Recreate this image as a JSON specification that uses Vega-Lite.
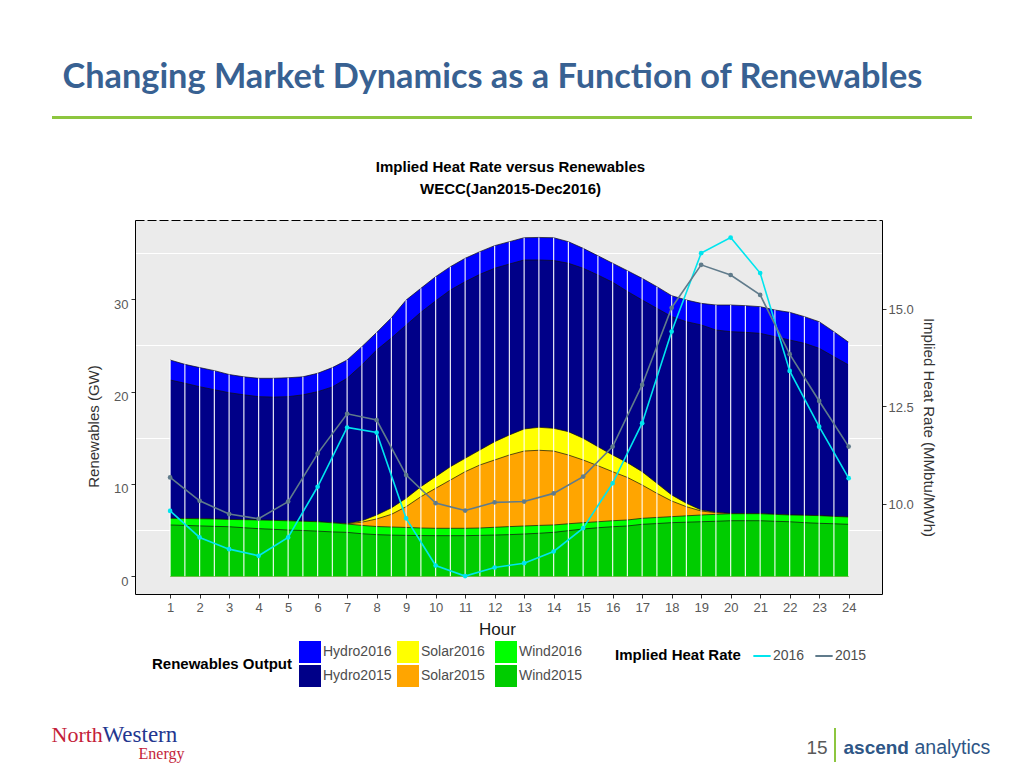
{
  "$schema": "https://vega.github.io/schema/vega-lite/v6.json",
  "width": 747,
  "height": 374,
  "autosize": {"type": "none"},
  "padding": {"left": 135, "top": 220, "right": 142, "bottom": 174},
  "background": "#FFFFFF",
  "config": {
    "view": {"fill": "#EBEBEB", "stroke": null},
    "font": "Liberation Sans",
    "axis": {"labelFont": "Liberation Sans", "titleFont": "Liberation Sans", "labelOverlap": false, "labelFlush": false},
    "legend": {"labelFont": "Liberation Sans", "titleFont": "Liberation Sans"}
  },
  "datasets": {
    "gen": [
      {"h": 1, "H16": 23.42, "H15": 21.26, "S16": 6.27, "S15": 5.55, "W16": 6.27, "W15": 5.55},
      {"h": 1.5, "H16": 22.95, "H15": 20.9, "S16": 6.25, "S15": 5.5, "W16": 6.25, "W15": 5.5},
      {"h": 2, "H16": 22.6, "H15": 20.53, "S16": 6.22, "S15": 5.45, "W16": 6.22, "W15": 5.45},
      {"h": 2.5, "H16": 22.27, "H15": 20.2, "S16": 6.2, "S15": 5.4, "W16": 6.2, "W15": 5.4},
      {"h": 3, "H16": 21.85, "H15": 19.88, "S16": 6.15, "S15": 5.36, "W16": 6.15, "W15": 5.36},
      {"h": 3.5, "H16": 21.6, "H15": 19.65, "S16": 6.12, "S15": 5.25, "W16": 6.12, "W15": 5.25},
      {"h": 4, "H16": 21.44, "H15": 19.45, "S16": 6.09, "S15": 5.15, "W16": 6.09, "W15": 5.15},
      {"h": 4.5, "H16": 21.44, "H15": 19.4, "S16": 6.05, "S15": 5.08, "W16": 6.05, "W15": 5.08},
      {"h": 5, "H16": 21.5, "H15": 19.45, "S16": 6.0, "S15": 5.0, "W16": 6.0, "W15": 5.0},
      {"h": 5.5, "H16": 21.6, "H15": 19.65, "S16": 5.95, "S15": 4.95, "W16": 5.95, "W15": 4.95},
      {"h": 6, "H16": 21.98, "H15": 19.99, "S16": 5.9, "S15": 4.88, "W16": 5.9, "W15": 4.88},
      {"h": 6.5, "H16": 22.6, "H15": 20.5, "S16": 5.78, "S15": 4.8, "W16": 5.78, "W15": 4.8},
      {"h": 7, "H16": 23.42, "H15": 21.44, "S16": 5.7, "S15": 5.68, "W16": 5.65, "W15": 4.75},
      {"h": 7.5, "H16": 24.87, "H15": 22.88, "S16": 6.0, "S15": 5.85, "W16": 5.5, "W15": 4.6},
      {"h": 8, "H16": 26.4, "H15": 24.5, "S16": 6.63, "S15": 6.2, "W16": 5.38, "W15": 4.5},
      {"h": 8.5, "H16": 28.0, "H15": 25.8, "S16": 7.4, "S15": 6.7, "W16": 5.33, "W15": 4.45},
      {"h": 9, "H16": 29.92, "H15": 27.2, "S16": 8.44, "S15": 7.53, "W16": 5.28, "W15": 4.42},
      {"h": 9.5, "H16": 31.19, "H15": 28.59, "S16": 9.7, "S15": 8.61, "W16": 5.22, "W15": 4.4},
      {"h": 10, "H16": 32.45, "H15": 29.82, "S16": 10.78, "S15": 9.52, "W16": 5.19, "W15": 4.39},
      {"h": 10.5, "H16": 33.53, "H15": 31.0, "S16": 11.86, "S15": 10.42, "W16": 5.19, "W15": 4.39},
      {"h": 11, "H16": 34.44, "H15": 31.9, "S16": 12.77, "S15": 11.32, "W16": 5.19, "W15": 4.39},
      {"h": 11.5, "H16": 35.16, "H15": 32.7, "S16": 13.67, "S15": 12.05, "W16": 5.22, "W15": 4.42},
      {"h": 12, "H16": 35.81, "H15": 33.36, "S16": 14.57, "S15": 12.59, "W16": 5.3, "W15": 4.46},
      {"h": 12.5, "H16": 36.24, "H15": 33.82, "S16": 15.3, "S15": 13.13, "W16": 5.37, "W15": 4.5},
      {"h": 13, "H16": 36.67, "H15": 34.26, "S16": 15.95, "S15": 13.56, "W16": 5.44, "W15": 4.57},
      {"h": 13.5, "H16": 36.7, "H15": 34.26, "S16": 16.13, "S15": 13.64, "W16": 5.5, "W15": 4.65},
      {"h": 14, "H16": 36.67, "H15": 34.2, "S16": 16.02, "S15": 13.56, "W16": 5.55, "W15": 4.75},
      {"h": 14.5, "H16": 36.24, "H15": 33.9, "S16": 15.66, "S15": 13.13, "W16": 5.68, "W15": 4.93},
      {"h": 15, "H16": 35.52, "H15": 33.36, "S16": 14.94, "S15": 12.59, "W16": 5.8, "W15": 5.11},
      {"h": 15.5, "H16": 34.72, "H15": 32.63, "S16": 14.03, "S15": 11.97, "W16": 5.9, "W15": 5.25},
      {"h": 16, "H16": 33.9, "H15": 31.84, "S16": 13.13, "S15": 11.32, "W16": 6.01, "W15": 5.36},
      {"h": 16.5, "H16": 33.1, "H15": 30.85, "S16": 12.3, "S15": 10.7, "W16": 6.09, "W15": 5.44},
      {"h": 17, "H16": 32.27, "H15": 29.92, "S16": 11.32, "S15": 9.88, "W16": 6.27, "W15": 5.62},
      {"h": 17.5, "H16": 31.37, "H15": 29.02, "S16": 10.06, "S15": 8.98, "W16": 6.36, "W15": 5.7},
      {"h": 18, "H16": 30.39, "H15": 28.12, "S16": 8.8, "S15": 8.15, "W16": 6.45, "W15": 5.8},
      {"h": 18.5, "H16": 29.92, "H15": 27.57, "S16": 7.9, "S15": 7.53, "W16": 6.54, "W15": 5.85},
      {"h": 19, "H16": 29.56, "H15": 27.22, "S16": 7.17, "S15": 7.06, "W16": 6.63, "W15": 5.9},
      {"h": 19.5, "H16": 29.38, "H15": 26.67, "S16": 6.92, "S15": 6.88, "W16": 6.7, "W15": 5.95},
      {"h": 20, "H16": 29.38, "H15": 26.49, "S16": 6.8, "S15": 6.78, "W16": 6.77, "W15": 6.01},
      {"h": 20.5, "H16": 29.31, "H15": 26.42, "S16": 6.77, "S15": 6.01, "W16": 6.77, "W15": 6.01},
      {"h": 21, "H16": 29.2, "H15": 26.31, "S16": 6.77, "S15": 6.01, "W16": 6.77, "W15": 6.01},
      {"h": 21.5, "H16": 28.84, "H15": 25.95, "S16": 6.7, "S15": 5.95, "W16": 6.7, "W15": 5.95},
      {"h": 22, "H16": 28.59, "H15": 25.59, "S16": 6.63, "S15": 5.9, "W16": 6.63, "W15": 5.9},
      {"h": 22.5, "H16": 28.12, "H15": 25.23, "S16": 6.6, "S15": 5.8, "W16": 6.6, "W15": 5.8},
      {"h": 23, "H16": 27.57, "H15": 24.69, "S16": 6.56, "S15": 5.73, "W16": 6.56, "W15": 5.73},
      {"h": 23.5, "H16": 26.49, "H15": 23.78, "S16": 6.48, "S15": 5.68, "W16": 6.48, "W15": 5.68},
      {"h": 24, "H16": 25.34, "H15": 22.88, "S16": 6.41, "S15": 5.62, "W16": 6.41, "W15": 5.62}
    ],
    "hr": [
      {"h": 1, "year": "2016", "hr": 9.82}, {"h": 2, "year": "2016", "hr": 9.14}, {"h": 3, "year": "2016", "hr": 8.84},
      {"h": 4, "year": "2016", "hr": 8.67}, {"h": 5, "year": "2016", "hr": 9.14}, {"h": 6, "year": "2016", "hr": 10.44},
      {"h": 7, "year": "2016", "hr": 11.96}, {"h": 8, "year": "2016", "hr": 11.83}, {"h": 9, "year": "2016", "hr": 9.63},
      {"h": 10, "year": "2016", "hr": 8.42}, {"h": 11, "year": "2016", "hr": 8.15}, {"h": 12, "year": "2016", "hr": 8.37},
      {"h": 13, "year": "2016", "hr": 8.48}, {"h": 14, "year": "2016", "hr": 8.78}, {"h": 15, "year": "2016", "hr": 9.38},
      {"h": 16, "year": "2016", "hr": 10.53}, {"h": 17, "year": "2016", "hr": 12.07}, {"h": 18, "year": "2016", "hr": 14.42},
      {"h": 19, "year": "2016", "hr": 16.43}, {"h": 20, "year": "2016", "hr": 16.83}, {"h": 21, "year": "2016", "hr": 15.92},
      {"h": 22, "year": "2016", "hr": 13.41}, {"h": 23, "year": "2016", "hr": 11.98}, {"h": 24, "year": "2016", "hr": 10.66},
      {"h": 1, "year": "2015", "hr": 10.68}, {"h": 2, "year": "2015", "hr": 10.08}, {"h": 3, "year": "2015", "hr": 9.74},
      {"h": 4, "year": "2015", "hr": 9.62}, {"h": 5, "year": "2015", "hr": 10.06}, {"h": 6, "year": "2015", "hr": 11.29},
      {"h": 7, "year": "2015", "hr": 12.31}, {"h": 8, "year": "2015", "hr": 12.15}, {"h": 9, "year": "2015", "hr": 10.74},
      {"h": 10, "year": "2015", "hr": 10.02}, {"h": 11, "year": "2015", "hr": 9.83}, {"h": 12, "year": "2015", "hr": 10.04},
      {"h": 13, "year": "2015", "hr": 10.06}, {"h": 14, "year": "2015", "hr": 10.27}, {"h": 15, "year": "2015", "hr": 10.7},
      {"h": 16, "year": "2015", "hr": 11.47}, {"h": 17, "year": "2015", "hr": 13.05}, {"h": 18, "year": "2015", "hr": 15.03},
      {"h": 19, "year": "2015", "hr": 16.13}, {"h": 20, "year": "2015", "hr": 15.87}, {"h": 21, "year": "2015", "hr": 15.36},
      {"h": 22, "year": "2015", "hr": 13.84}, {"h": 23, "year": "2015", "hr": 12.64}, {"h": 24, "year": "2015", "hr": 11.47}
    ],
    "one": [{"d": 0}]
  },
  "layer": [
    {
      "data": {"name": "gen"},
      "layer": [
        {
          "mark": {"type": "area", "opacity": 1},
          "encoding": {
            "x": {"field": "h", "type": "quantitative", "scale": {"domain": [-0.19, 25.13], "nice": false, "zero": false}, "axis": null},
            "y": {"field": "H16", "type": "quantitative", "scale": {"domain": [-1.93, 38.59], "nice": false, "zero": false}, "axis": null},
            "fill": {"datum": "Hydro2016", "type": "nominal",
              "scale": {"domain": ["Hydro2016", "Solar2016", "Wind2016", "Hydro2015", "Solar2015", "Wind2015"], "range": ["#0000FF", "#FFFF00", "#00FF00", "#000088", "#FFA500", "#00CC00"]},
              "legend": {"title": "Renewables Output", "orient": "none", "legendX": 17, "legendY": 421, "direction": "horizontal", "columns": 3, "gridAlign": "all", "titleOrient": "left", "titleAnchor": "middle", "titleBaseline": "middle", "titleFontSize": 15, "titleFontWeight": "bold", "titleColor": "#000000", "titlePadding": 6, "symbolType": "square", "symbolSize": 484, "symbolStrokeWidth": 0, "symbolOpacity": 1, "labelFontSize": 14, "labelColor": "#4D4D4D", "labelOffset": 2, "columnPadding": 5, "rowPadding": 2, "padding": 0}}
          }
        },
        {"mark": {"type": "line", "color": "#111111", "strokeWidth": 0.7}, "encoding": {"x": {"field": "h", "type": "quantitative", "scale": {"domain": [-0.19, 25.13], "nice": false, "zero": false}, "axis": null}, "y": {"field": "H16", "type": "quantitative", "scale": {"domain": [-1.93, 38.59], "nice": false, "zero": false}, "axis": null}}},
        {"mark": {"type": "area", "opacity": 1}, "encoding": {"x": {"field": "h", "type": "quantitative", "scale": {"domain": [-0.19, 25.13], "nice": false, "zero": false}, "axis": null}, "y": {"field": "H15", "type": "quantitative", "scale": {"domain": [-1.93, 38.59], "nice": false, "zero": false}, "axis": null}, "fill": {"datum": "Hydro2015", "type": "nominal"}}},
        {"mark": {"type": "line", "color": "#111111", "strokeWidth": 0.7}, "encoding": {"x": {"field": "h", "type": "quantitative", "scale": {"domain": [-0.19, 25.13], "nice": false, "zero": false}, "axis": null}, "y": {"field": "H15", "type": "quantitative", "scale": {"domain": [-1.93, 38.59], "nice": false, "zero": false}, "axis": null}}},
        {"mark": {"type": "area", "opacity": 1}, "encoding": {"x": {"field": "h", "type": "quantitative", "scale": {"domain": [-0.19, 25.13], "nice": false, "zero": false}, "axis": null}, "y": {"field": "S16", "type": "quantitative", "scale": {"domain": [-1.93, 38.59], "nice": false, "zero": false}, "axis": null}, "fill": {"datum": "Solar2016", "type": "nominal"}}},
        {"mark": {"type": "line", "color": "#111111", "strokeWidth": 0.7}, "encoding": {"x": {"field": "h", "type": "quantitative", "scale": {"domain": [-0.19, 25.13], "nice": false, "zero": false}, "axis": null}, "y": {"field": "S16", "type": "quantitative", "scale": {"domain": [-1.93, 38.59], "nice": false, "zero": false}, "axis": null}}},
        {"mark": {"type": "area", "opacity": 1}, "encoding": {"x": {"field": "h", "type": "quantitative", "scale": {"domain": [-0.19, 25.13], "nice": false, "zero": false}, "axis": null}, "y": {"field": "S15", "type": "quantitative", "scale": {"domain": [-1.93, 38.59], "nice": false, "zero": false}, "axis": null}, "fill": {"datum": "Solar2015", "type": "nominal"}}},
        {"mark": {"type": "line", "color": "#111111", "strokeWidth": 0.7}, "encoding": {"x": {"field": "h", "type": "quantitative", "scale": {"domain": [-0.19, 25.13], "nice": false, "zero": false}, "axis": null}, "y": {"field": "S15", "type": "quantitative", "scale": {"domain": [-1.93, 38.59], "nice": false, "zero": false}, "axis": null}}},
        {"mark": {"type": "area", "opacity": 1}, "encoding": {"x": {"field": "h", "type": "quantitative", "scale": {"domain": [-0.19, 25.13], "nice": false, "zero": false}, "axis": null}, "y": {"field": "W16", "type": "quantitative", "scale": {"domain": [-1.93, 38.59], "nice": false, "zero": false}, "axis": null}, "fill": {"datum": "Wind2016", "type": "nominal"}}},
        {"mark": {"type": "line", "color": "#111111", "strokeWidth": 0.7}, "encoding": {"x": {"field": "h", "type": "quantitative", "scale": {"domain": [-0.19, 25.13], "nice": false, "zero": false}, "axis": null}, "y": {"field": "W16", "type": "quantitative", "scale": {"domain": [-1.93, 38.59], "nice": false, "zero": false}, "axis": null}}},
        {"mark": {"type": "area", "opacity": 1}, "encoding": {"x": {"field": "h", "type": "quantitative", "scale": {"domain": [-0.19, 25.13], "nice": false, "zero": false}, "axis": null}, "y": {"field": "W15", "type": "quantitative", "scale": {"domain": [-1.93, 38.59], "nice": false, "zero": false}, "axis": null}, "fill": {"datum": "Wind2015", "type": "nominal"}}},
        {"mark": {"type": "line", "color": "#111111", "strokeWidth": 0.7}, "encoding": {"x": {"field": "h", "type": "quantitative", "scale": {"domain": [-0.19, 25.13], "nice": false, "zero": false}, "axis": null}, "y": {"field": "W15", "type": "quantitative", "scale": {"domain": [-1.93, 38.59], "nice": false, "zero": false}, "axis": null}}},
        {"mark": {"type": "rule", "color": "#FFFFFF", "strokeWidth": 1.2, "opacity": 0.9}, "encoding": {"x": {"field": "h", "type": "quantitative", "scale": {"domain": [-0.19, 25.13], "nice": false, "zero": false}, "axis": null}, "y": {"field": "H16", "type": "quantitative", "scale": {"domain": [-1.93, 38.59], "nice": false, "zero": false}, "axis": null}, "y2": {"datum": 0}}}
      ]
    },
    {
      "data": {"name": "hr"},
      "mark": {"type": "line", "strokeWidth": 1.6, "point": {"filled": true, "size": 22}},
      "encoding": {
        "x": {"field": "h", "type": "quantitative", "scale": {"domain": [-0.19, 25.13], "nice": false, "zero": false},
          "axis": {"orient": "top", "domain": true, "domainColor": "#000000", "domainDash": [9, 3], "domainWidth": 1, "ticks": false, "labels": false, "grid": false, "title": ["Implied Heat Rate versus Renewables", "WECC(Jan2015-Dec2016)"], "titleX": 375, "titleY": -49, "titleAlign": "center", "titleBaseline": "alphabetic", "titleAngle": 0, "titleFontSize": 15, "titleFontWeight": "bold", "titleColor": "#000000", "titleLineHeight": 22}},
        "y": {"field": "hr", "type": "quantitative", "scale": {"domain": [7.69, 17.28], "nice": false, "zero": false},
          "axis": {"orient": "right", "values": [10, 12.5, 15], "format": ".1f", "grid": false, "domainColor": "#000000", "domainWidth": 1, "tickColor": "#333333", "tickSize": 4, "labelFontSize": 13, "labelColor": "#595959", "labelPadding": 2, "labelOffset": 1, "title": "Implied Heat Rate (MMbtu/MWh)", "titleX": 46, "titleY": 207, "titleAngle": 90, "titleAlign": "center", "titleBaseline": "middle", "titleFontSize": 15, "titleFontWeight": "normal", "titleColor": "#333333"}},
        "color": {"field": "year", "type": "nominal", "scale": {"domain": ["2016", "2015"], "range": ["#00E5EE", "#607B8B"]},
          "legend": {"title": "Implied Heat Rate", "orient": "none", "legendX": 480, "legendY": 426, "direction": "horizontal", "titleOrient": "left", "titleAnchor": "middle", "titleBaseline": "middle", "titleFontSize": 15, "titleFontWeight": "bold", "titleColor": "#000000", "titlePadding": 11, "symbolType": "stroke", "symbolSize": 300, "symbolStrokeWidth": 2, "labelFontSize": 14, "labelColor": "#4D4D4D", "labelOffset": 1, "columnPadding": 6, "padding": 0}}
      }
    },
    {
      "data": {"name": "one"},
      "mark": {"type": "point", "opacity": 0},
      "encoding": {
        "x": {"field": "d", "type": "quantitative", "scale": {"domain": [-0.19, 25.13], "nice": false, "zero": false},
          "axis": {"orient": "bottom", "values": [1,2,3,4,5,6,7,8,9,10,11,12,13,14,15,16,17,18,19,20,21,22,23,24], "grid": false, "domainColor": "#000000", "domainWidth": 1, "tickColor": "#333333", "tickSize": 4, "labelFontSize": 13, "labelColor": "#595959", "labelPadding": 3, "title": "Hour", "titleX": 362, "titleY": 40, "titleAlign": "center", "titleBaseline": "alphabetic", "titleAngle": 0, "titleFontSize": 17, "titleFontWeight": "normal", "titleColor": "#1A1A1A"}},
        "y": {"field": "d", "type": "quantitative", "scale": {"domain": [-1.93, 38.59], "nice": false, "zero": false},
          "axis": {"orient": "left", "values": [0, 10, 20, 30], "grid": false, "domainColor": "#000000", "domainWidth": 1, "tickColor": "#333333", "tickSize": 4, "labelFontSize": 13, "labelColor": "#595959", "labelPadding": 3, "labelOffset": 5, "title": "Renewables (GW)", "titleX": -42, "titleY": 206, "titleAngle": 270, "titleAlign": "center", "titleBaseline": "middle", "titleFontSize": 15, "titleFontWeight": "normal", "titleColor": "#333333"}}
      }
    },
    {
      "data": {"name": "one"},
      "mark": {"type": "point", "opacity": 0},
      "encoding": {
        "x": {"field": "d", "type": "quantitative", "scale": {"domain": [0, 1]},
          "axis": {"orient": "top", "domain": false, "ticks": false, "labels": false, "grid": false, "title": "Changing Market Dynamics as a Function of Renewables", "titleX": -73, "titleY": -133, "titleAlign": "left", "titleBaseline": "alphabetic", "titleAngle": 0, "titleFont": "Lato", "titleFontSize": 34.3, "titleFontWeight": "bold", "titleColor": "#386192"}},
        "y": {"field": "d", "type": "quantitative", "scale": {"domain": [-1.93, 38.59], "nice": false, "zero": false},
          "axis": {"orient": "left", "values": [5, 15, 25, 35], "grid": true, "gridColor": "#FFFFFF", "gridWidth": 1.2, "gridOpacity": 1, "domain": false, "ticks": false, "labels": false, "title": "15", "titleX": 671, "titleY": 533, "titleAngle": 0, "titleAlign": "left", "titleBaseline": "alphabetic", "titleFontSize": 19, "titleFontWeight": "normal", "titleColor": "#595959"}},
        "color": {"field": "d", "type": "quantitative", "scale": {"domain": [0, 1], "range": ["#8DC63F", "#8DC63F"]},
          "legend": {"orient": "none", "legendX": -83, "legendY": -104, "direction": "horizontal", "gradientLength": 920, "gradientThickness": 3, "gradientStrokeWidth": 0, "title": null, "labelExpr": "''", "padding": 0}}
      }
    },
    {
      "data": {"name": "one"},
      "mark": {"type": "point", "opacity": 0},
      "encoding": {
        "x": {"field": "d", "type": "quantitative", "scale": {"domain": [0, 1]},
          "axis": {"orient": "bottom", "domain": false, "ticks": false, "labels": false, "grid": false, "title": "ascend", "titleX": 708, "titleY": 159, "titleAlign": "left", "titleBaseline": "alphabetic", "titleAngle": 0, "titleFontSize": 19, "titleFontWeight": "bold", "titleColor": "#2E5686"}},
        "y": {"field": "d", "type": "quantitative", "scale": {"domain": [0, 1]},
          "axis": {"orient": "right", "domain": false, "ticks": false, "labels": false, "grid": false, "title": "analytics", "titleX": 32, "titleY": 533, "titleAlign": "left", "titleBaseline": "alphabetic", "titleAngle": 0, "titleFontSize": 19.5, "titleFontWeight": "normal", "titleColor": "#2E5686"}}
      }
    },
    {
      "data": {"name": "one"},
      "mark": {"type": "point", "opacity": 0},
      "encoding": {
        "x": {"field": "d", "type": "quantitative", "scale": {"domain": [0, 1]},
          "axis": {"orient": "top", "domain": false, "ticks": false, "labels": false, "grid": false, "title": "North", "titleX": -84, "titleY": 521, "titleAlign": "left", "titleBaseline": "alphabetic", "titleAngle": 0, "titleFont": "Liberation Serif", "titleFontSize": 22, "titleFontWeight": "normal", "titleColor": "#C41E3A"}},
        "y": {"field": "d", "type": "quantitative", "scale": {"domain": [0, 1]},
          "axis": {"orient": "left", "domain": false, "ticks": false, "labels": false, "grid": false, "title": "Western", "titleX": -33, "titleY": 521, "titleAlign": "left", "titleBaseline": "alphabetic", "titleAngle": 0, "titleFont": "Liberation Serif", "titleFontSize": 23, "titleFontWeight": "normal", "titleColor": "#23368F"}}
      }
    },
    {
      "data": {"name": "one"},
      "mark": {"type": "point", "opacity": 0},
      "encoding": {
        "x": {"field": "d", "type": "quantitative", "scale": {"domain": [0, 1]},
          "axis": {"orient": "bottom", "domain": false, "ticks": false, "labels": false, "grid": false, "title": "Energy", "titleX": 3, "titleY": 164, "titleAlign": "left", "titleBaseline": "alphabetic", "titleAngle": 0, "titleFont": "Liberation Serif", "titleFontSize": 16, "titleFontWeight": "normal", "titleColor": "#C41E3A"}},
        "y": {"field": "d", "type": "quantitative", "scale": {"domain": [0, 1]}, "axis": null},
        "color": {"field": "d", "type": "quantitative", "scale": {"domain": [0, 1], "range": ["#8DC63F", "#8DC63F"]},
          "legend": {"orient": "none", "legendX": 699, "legendY": 508, "direction": "vertical", "gradientLength": 34, "gradientThickness": 2, "gradientStrokeWidth": 0, "title": null, "labelExpr": "''", "padding": 0}}
      }
    }
  ],
  "resolve": {
    "scale": {"x": "independent", "y": "independent", "color": "independent"},
    "axis": {"x": "independent", "y": "independent"}
  }
}
